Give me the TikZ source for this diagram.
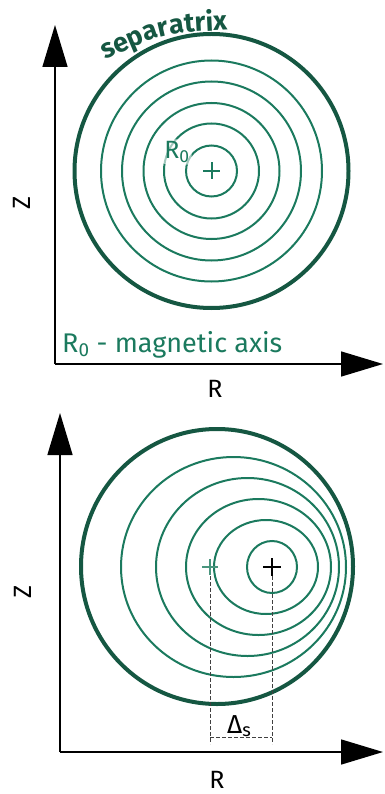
\documentclass[tikz,border=0pt]{standalone}
\usepackage{fontspec}
\setmainfont{Fira Sans}
\usetikzlibrary{arrows.meta,positioning,decorations.text}
\definecolor{sepx}{RGB}{21,87,66}
\definecolor{flux}{RGB}{27,122,94}

\begin{document}
\begin{tikzpicture}[x=1pt, y=-1pt,
    axisarrow/.style={-{Triangle[length=42pt,width=25pt]}, line width=1.5pt},
    sepline/.style={draw=sepx, line width=4pt},
    surf/.style={draw=flux, line width=2pt},
    dimline/.style={dash pattern=on 4pt off 2pt, line width=0.9pt, black!75},
    lbl/.style={font=\fontsize{25}{29}\selectfont, inner sep=0pt}
]
    \useasboundingbox (0,0) rectangle (384,794);

    % ---- upper panel: centred equilibrium
    \coordinate (o1) at (55,364);
    \coordinate (ztip1) at (55,25);
    \coordinate (rtip1) at (383,364);
    \coordinate (ax1) at (211.5,171);

    \draw[axisarrow] (o1) -- (ztip1);
    \draw[axisarrow] (o1) -- (rtip1);

    % flux surfaces
    \foreach \r in {25.5,47.5,68,89.5,110.5}
        \draw[surf] (ax1) circle[radius=\r];
    \draw[sepline] (ax1) circle[radius=137];

    % magnetic axis
    \draw[surf] (ax1) ++(-8.5,0) -- ++(17,0) (ax1) ++(0,-8.5) -- ++(0,17);
    \node[lbl, text=flux, fill=white, fill opacity=0.6, text opacity=1, inner sep=2pt,
          rounded corners=4pt] (r0lbl) at (177,152) {R\textsubscript{0}};

    % separatrix label, bent along the boundary
    \coordinate (sepA) at (103,61);
    \coordinate (sepC) at (163,33);
    \coordinate (sepB) at (230,30);
    \path[decorate, decoration={text along path, text align=center,
        text={|\fontsize{27}{30}\selectfont\bfseries\color{sepx}|separatrix}}]
        (sepA) .. controls (sepC) .. (sepB);

    % labels
    \node[lbl, font=\fontsize{27}{31}\selectfont, text=flux, anchor=base west] (axlbl) at (62,352) {R\textsubscript{0} - magnetic axis};
    \node[lbl, rotate=90] (zlbl1) at (22,203) {Z};
    \node[lbl, anchor=base] (rlbl1) at (215,397) {R};

    % ---- lower panel: Shafranov shift
    \coordinate (o2) at (60,752);
    \coordinate (ztip2) at (60,413);
    \coordinate (rtip2) at (383,752);
    \coordinate (gc) at (210,567);
    \coordinate (bc) at (272,567);

    \draw[axisarrow] (o2) -- (ztip2);
    \draw[axisarrow] (o2) -- (rtip2);

    % shifted flux surfaces
    \foreach \cx/\rx/\ry in {272/25/26, 266/52/47, 258.5/72.5/68, 247.5/91.5/89, 233.5/112.5/110}
        \draw[surf] (\cx,567) ellipse[x radius=\rx, y radius=\ry];
    \draw[sepline] (217,566.5) ellipse[x radius=136, y radius=137.5];

    % geometric centre and shifted axis
    \draw[surf, draw=flux!80] (gc) ++(-8,0) -- ++(16,0) (gc) ++(0,-8) -- ++(0,16);
    \draw[line width=2pt] (bc) ++(-9,0) -- ++(18,0) (bc) ++(0,-9) -- ++(0,18);

    % shift dimension
    \coordinate (gfoot) at (210,744);
    \coordinate (bfoot) at (272,744);
    \coordinate (gdim) at (210,737);
    \coordinate (bdim) at (272,737);
    \draw[dimline] (gc) ++(0,9) -- (gfoot);
    \draw[dimline] (bc) ++(0,9) -- (bfoot);
    \draw[dimline] (gdim) -- (bdim);
    \node[lbl, font=\fontsize{26}{30}\selectfont, anchor=base west] (dlbl) at (227,733) {Δ\textsubscript{s}};

    \node[lbl, rotate=90] (zlbl2) at (23,592) {Z};
    \node[lbl, anchor=base] (rlbl2) at (217,788) {R};
\end{tikzpicture}
\end{document}
